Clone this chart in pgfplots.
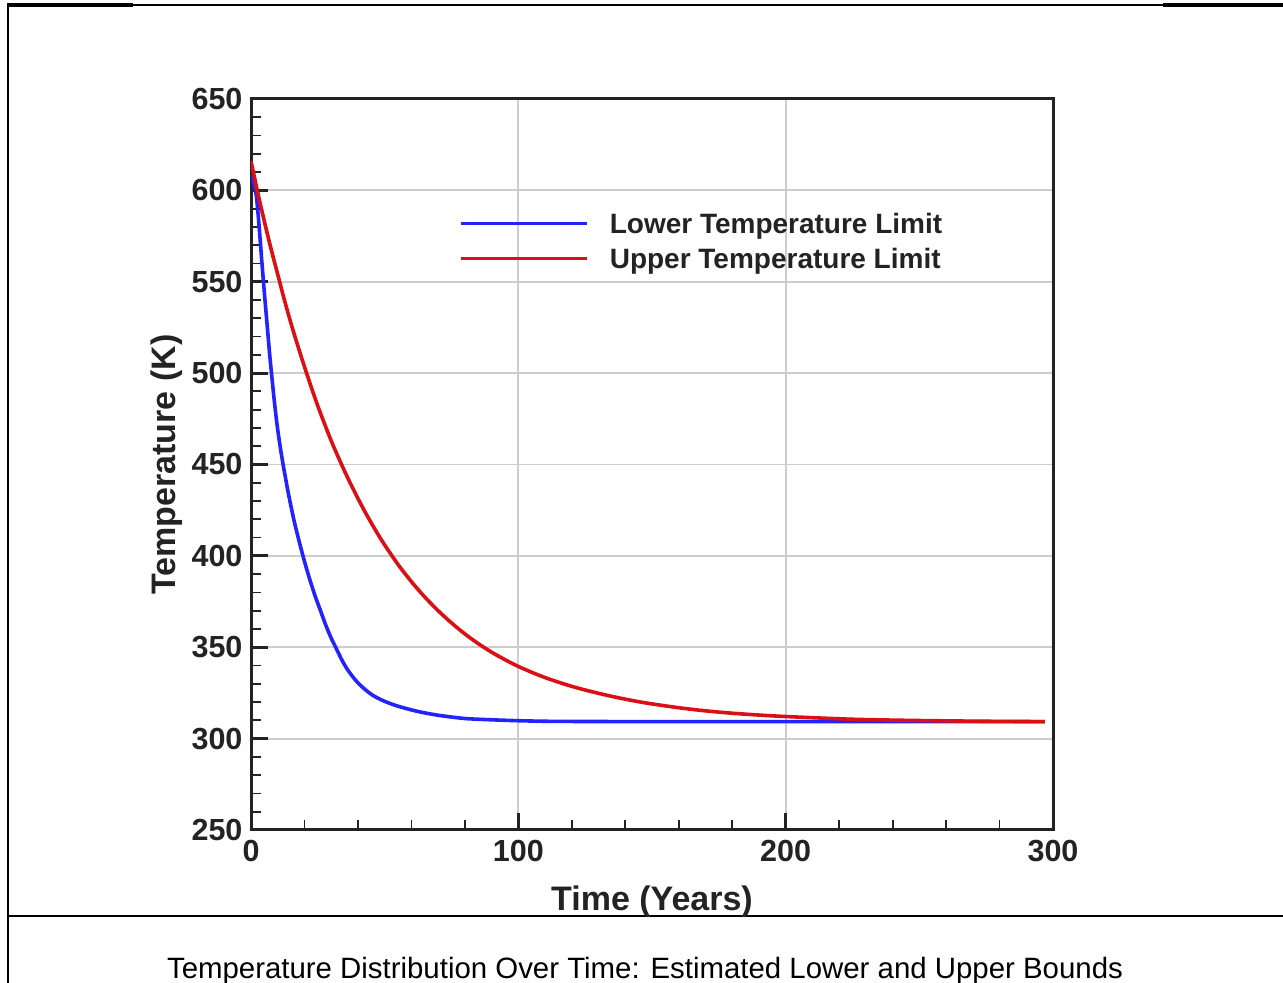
\documentclass[border=0pt]{standalone}
\usepackage{fontspec}
\setmainfont{Liberation Sans}
\usepackage{pgfplots}
\pgfplotsset{compat=1.18}
\definecolor{lowblue}{RGB}{35,35,255}
\definecolor{upred}{RGB}{220,15,20}
\definecolor{axgray}{RGB}{35,35,35}
\definecolor{gridgray}{RGB}{205,205,205}
\begin{document}
\begin{tikzpicture}
\path[use as bounding box] (0pt,0pt) rectangle (1283pt,983pt);
% frame lines
\draw[line width=2pt] (8pt,978pt) -- (1283pt,978pt);
\draw[line width=3.5pt] (7pt,978pt) -- (133pt,978pt);
\draw[line width=3.5pt] (1163pt,978pt) -- (1283pt,978pt);
\draw[line width=2.2pt] (8pt,979pt) -- (8pt,0pt);
\draw[line width=2pt] (8pt,67pt) -- (1283pt,67pt);
\draw[line width=2.6pt] (8pt,67pt) -- (133pt,67pt);
\draw[line width=2.6pt] (1163pt,67pt) -- (1283pt,67pt);
\node[anchor=base, inner sep=0pt, font=\fontsize{29.4}{31}\selectfont] at (645pt,5pt) {Temperature Distribution Over Time: Estimated Lower and Upper Bounds};
\begin{axis}[
  at={(251pt,153pt)}, anchor=south west,
  scale only axis, width=802pt, height=731pt,
  xmin=0, xmax=300, ymin=250, ymax=650,
  xtick={0,100,200,300}, ytick={250,300,...,650},
  minor x tick num=4, minor y tick num=4,
  xtick pos=bottom, ytick pos=left,
  tick align=inside,
  major tick length=17pt, minor tick length=10pt,
  every major tick/.append style={line width=2.8pt, axgray},
  every minor tick/.append style={line width=1.8pt, axgray},
  axis line style={line width=3pt, axgray},
  grid=major,
  major grid style={line width=1.8pt, gridgray},
  /pgf/number format/assume math mode=true,
  ticklabel style={font=\fontsize{30.5}{30.5}\selectfont\bfseries, text=axgray},
  xticklabel style={yshift=-7pt},
  yticklabel style={xshift=-5pt},
  xlabel={Time (Years)}, ylabel={Temperature (K)},
  label style={font=\fontsize{34}{34}\selectfont\bfseries, text=axgray},
  xlabel style={yshift=-17pt},
  ylabel style={yshift=2pt},
  legend image code/.code={\draw[#1] (0pt,0pt) -- (126pt,0pt);},
  legend style={draw=none, fill=none, inner sep=0pt, at={(axis cs:77.8,588.5)}, anchor=north west,
    nodes={inner sep=0pt, text height=22pt, text depth=2pt, font=\fontsize{28}{28}\selectfont\bfseries, text=axgray},
    row sep=11pt, column sep=21pt},
  legend cell align=left,
]
\addplot[lowblue, line width=3.6pt, smooth, tension=0.5] coordinates {
(0,608) (1,604) (2,597) (3,581) (4,562) (5,544) (6,527) (7,510) (8,495) (9,481) (10,469)
(11,459) (12,450) (13,442) (14,434) (16,420) (18,408) (20,397) (22,387) (24,378) (26,370)
(28,362) (30,355) (32,349) (34,343) (36,338) (38,334) (40,330.5)
(43,326.5) (46,323.3) (50,320.4) (54,318.2) (58,316.5) (62,315) (66,313.8) (70,312.8) (75,311.8)
(80,311) (85,310.6) (90,310.3) (100,309.8) (110,309.5)
(120,309.4) (150,309.3) (200,309.3) (250,309.3) (297,309.3)
};
\addlegendentry{Lower Temperature Limit}
\addplot[upred, line width=3.6pt, smooth, tension=0.5] coordinates {
(0,616) (2.5,599) (5,583) (7.5,568) (10,554) (12.5,540) (15,527) (17.5,515) (20,503.5) (22.5,492.5)
(25,482) (27.5,472.3) (30,463) (32.5,454.5) (35,446.4) (37.5,438.7) (40,431.4) (42.5,424.5) (45,418)
(47.5,411.8) (50,406) (55,395.3) (60,385.9) (65,377.5) (70,370) (75,363.3) (80,357.3) (85,352) (90,347.3)
(95,343.2) (100,339.5) (105,336.3) (110,333.4) (115,330.9) (120,328.6) (125,326.6) (130,324.8)
(135,323.1) (140,321.6) (145,320.2) (150,319) (160,316.9) (170,315.2) (180,313.9) (190,312.9) (200,312.1)
(225,310.6) (250,309.9) (275,309.5) (297,309.3)
};
\addlegendentry{Upper Temperature Limit}
\end{axis}
\end{tikzpicture}
\end{document}
